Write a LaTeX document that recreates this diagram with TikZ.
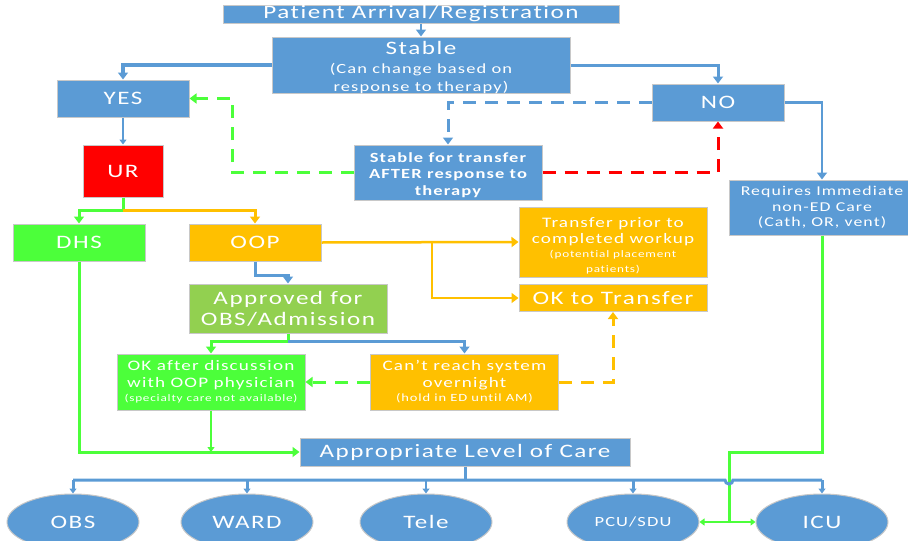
\documentclass[tikz,border=0pt]{standalone}
\usepackage{fontspec}
\setmainfont[FakeStretch=1.32,LetterSpace=8,Ligatures={NoCommon}]{Carlito}
\usetikzlibrary{arrows.meta,shapes.geometric}
\definecolor{bblue}{RGB}{91,155,213}
\definecolor{bgreen}{RGB}{76,255,58}
\definecolor{lgreen}{RGB}{146,208,80}
\definecolor{borange}{RGB}{255,192,0}
\definecolor{bred}{RGB}{255,0,0}
\definecolor{bgray}{RGB}{200,200,200}
\tikzset{
  box/.style={draw=bgray, line width=1pt, rectangle, inner sep=0pt, text=white, align=center, font=\fontsize{19}{21}\selectfont},
  oval/.style={draw=bgray, line width=1pt, ellipse, fill=bblue, inner sep=0pt, text=white, minimum width=132pt, minimum height=56pt, font=\fontsize{19}{21}\selectfont},
  bl/.style={draw=bblue, line width=3pt},
  gl/.style={draw=bgreen, line width=3pt},
  ol/.style={draw=borange, line width=3pt},
  rl/.style={draw=bred, line width=3pt},
  tip/.style={-{Triangle[width=10pt,length=7pt]}},
  stip/.style={-{Triangle[width=7pt,length=5pt]}},
  dsh/.style={dash pattern=on 13pt off 9pt},
  intext/.style={inner sep=0pt, text=white, align=center, font=\fontsize{19}{21}\selectfont},
}
\begin{document}
\begin{tikzpicture}[x=1pt,y=-1pt]
\useasboundingbox (0,0) rectangle (908,541);
% nodes
\node[box, fill=bblue, minimum width=396, minimum height=18] (pat) at (421,14) {Patient Arrival/Registration};
\node[box, fill=bblue, minimum width=298, minimum height=56,
  label={[intext, yshift=-2.5pt]center:{Stable\\[-2pt]{\fontsize{14}{16}\selectfont (Can change based on}\\[-3pt]{\fontsize{14}{16}\selectfont response to therapy)}}}] (stable) at (421,65) {};
\node[box, fill=bblue, minimum width=132, minimum height=37] (yes) at (123,98.5) {YES};
\node[box, fill=bblue, minimum width=132, minimum height=37] (no) at (718,102.5) {NO};
\node[box, fill=bblue, minimum width=188, minimum height=55, font=\bfseries\fontsize{14}{16.5}\selectfont] (sft) at (448,172.5) {\rule{0pt}{15pt}Stable for transfer\\AFTER response to\\therapy};
\node[box, fill=bred, minimum width=80, minimum height=52] (ur) at (123,171) {UR};
\node[box, fill=bblue, minimum width=186, minimum height=55, font=\fontsize{13.5}{15.5}\selectfont] (req) at (822,207.5) {Requires Immediate\\non-ED Care\\(Cath, OR, vent)};
\node[box, fill=bgreen, minimum width=132, minimum height=37] (dhs) at (79,242.5) {DHS};
\node[box, fill=borange, minimum width=132, minimum height=37] (oop) at (255,242.5) {OOP};
\node[box, fill=borange, minimum width=188, minimum height=70, font=\fontsize{14.5}{15.5}\selectfont] (tp) at (613,242) {\rule{0pt}{18pt}Transfer prior to\\completed workup\\[-1pt]{\fontsize{10}{11}\selectfont (potential placement}\\[-1pt]{\fontsize{10}{11}\selectfont patients)}};
\node[box, fill=borange, minimum width=188, minimum height=27] (okt) at (613,298) {OK to Transfer};
\node[box, fill=lgreen, minimum width=198, minimum height=49, font=\fontsize{19}{21}\selectfont] (appr) at (288,308.5) {Approved for\\OBS/Admission};
\node[box, fill=bgreen, minimum width=188, minimum height=56, font=\fontsize{14.5}{16.5}\selectfont] (oka) at (211,382) {OK after discussion\\with OOP physician\\[-2pt]{\fontsize{10}{11}\selectfont (specialty care not available)}};
\node[box, fill=borange, minimum width=188, minimum height=56, font=\fontsize{14.5}{16.5}\selectfont] (cant) at (464.5,382) {Can’t reach system\\overnight\\[-2pt]{\fontsize{11}{12}\selectfont (hold in ED until AM)}};
\node[box, fill=bblue, minimum width=330, minimum height=28] (apl) at (465,452) {Appropriate Level of Care};
\node[oval] (obs) at (73,522) {OBS};
\node[oval] (ward) at (247,522) {WARD};
\node[oval] (tele) at (426,522) {Tele};
\node[oval, font=\fontsize{14}{16}\selectfont] (pcu) at (633,522) {PCU/SDU};
\node[oval] (icu) at (822,522) {ICU};
% coordinates
\coordinate (urj) at (123,210);
\coordinate (gv) at (232,172.5);
\coordinate (oopj) at (432,242.5);
\coordinate (apj) at (288,341);
\coordinate (rj) at (822,452);
\coordinate (gj) at (729,452);
\coordinate (gb) at (729,522);
\coordinate (busl) at (73,480);
\coordinate (busr) at (822,480);
\coordinate (hopl) at (725,480);
\coordinate (busm) at (465,480);
% connectors
\draw[bl, line width=2.5pt, tip] (pat.south) -- (stable.north);
\draw[bl, line width=3.5pt, tip] (stable.west) -| (yes.north);
\draw[bl, tip] (stable.east) -| (no.north);
\draw[bl, dsh, tip] (no.west) -| (sft.north);
\draw[rl, dsh, tip] (sft.east) -| (no.south);
\draw[gl, dsh, tip] (sft.west) -- (gv) |- (yes.east);
\draw[bl, line width=1.5pt, stip] (yes.south) -- (ur.north);
\draw[gl, tip] (ur.south) -- (urj) -| (dhs.north);
\draw[ol, tip] (urj) -| (oop.north);
\draw[bl, tip] (oop.south) -- ++(0,14) -| (appr.north);
\draw[ol, line width=2.5pt, tip] (oop.east) -- (tp.west);
\draw[ol, line width=2.5pt, tip] (oopj) |- (okt.west);
\draw[bl, line width=2.5pt, tip] (no.east) -| (req.north);
\draw[gl, tip] (appr.south) -- (apj) -| (oka.north);
\draw[bl, tip] (apj) -| (cant.north);
\draw[ol, dsh, tip] (cant.east) -| (okt.south);
\draw[gl, dsh, tip] (cant.west) -- (oka.east);
\draw[gl, tip] (dhs.south) |- (apl.west);
\draw[gl, line width=2pt, stip] (oka.south) -- (oka.south |- apl.west);
\draw[gl] (req.south) -- (rj) -- (gj) -- (gb);
\draw[gl, line width=2.5pt, stip] (gb) -- (pcu.east);
\draw[gl, line width=2.5pt, stip] (gb) -- (icu.west);
\draw[bl] (apl.south) -- (busm);
\draw[bl] (busl) -- (hopl) arc[start angle=180, end angle=0, radius=4] -- (busr);
\draw[bl, stip] (busl) -- (obs.north);
\draw[bl, stip] (busl -| ward.north) -- (ward.north);
\draw[bl, line width=1.5pt, stip] (busl -| tele.north) -- (tele.north);
\draw[bl, stip] (busl -| pcu.north) -- (pcu.north);
\draw[bl, stip] (busr) -- (icu.north);
\end{tikzpicture}
\end{document}
